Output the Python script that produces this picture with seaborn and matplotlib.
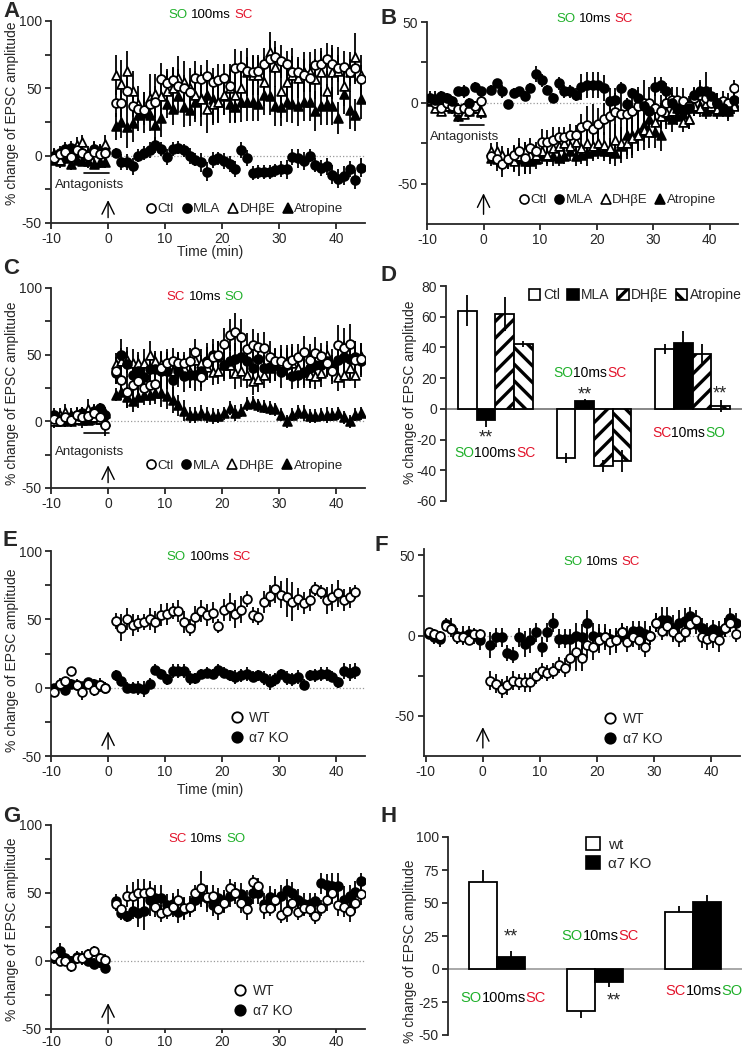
import numpy as np
import pandas as pd
import matplotlib
matplotlib.use('Agg')
import matplotlib.pyplot as plt
import matplotlib.patches as mpatches
from matplotlib.lines import Line2D
import seaborn as sns

# ---------------- data ----------------
# time (min) of each sample, baseline then post-pairing
T = [-9.5, -8.5, -7.5, -6.5, -5.5, -4.5, -3.5, -2.5, -1.5, -0.5,
     1.3, 2.3, 3.3, 4.3, 5.3, 6.3, 7.3, 8.3, 9.3, 10.3,
     11.3, 12.3, 13.3, 14.3, 15.3, 16.3, 17.3, 18.3, 19.3, 20.3,
     21.3, 22.3, 23.3, 24.3, 25.3, 26.3, 27.3, 28.3, 29.3, 30.3,
     31.3, 32.3, 33.3, 34.3, 35.3, 36.3, 37.3, 38.3, 39.3, 40.3,
     41.3, 42.3, 43.3, 44.3]

# panel A: SO 100ms SC
A_CTL = [-2, 1, 3, -1, 4, 2, 0, 3, 1, 2,
         39, 39, 48, 37, 35, 34, 38, 40, 57, 54,
         56, 52, 50, 47, 58, 57, 59, 55, 56, 58,
         52, 65, 66, 63, 62, 63, 68, 72, 73, 70,
         68, 62, 62, 60, 58, 67, 68, 72, 68, 65,
         66, 62, 65, 57]
A_CTL_ERR = [4, 3, 5, 4, 5, 4, 3, 4, 5, 6,
             10, 10, 12, 8, 8, 9, 10, 12, 12, 10,
             10, 12, 10, 9, 12, 10, 12, 10, 12, 10,
             12, 14, 12, 10, 12, 10, 12, 14, 12, 12,
             10, 12, 10, 12, 10, 12, 10, 12, 12, 10,
             12, 10, 12, 10]
A_MLA = [0, 2, 5, 6, 3, 2, 0, 5, 2, 3,
         2, -5, -5, -8, 0, 2, 4, 8, 5, -1,
         5, 6, 4, 0, -3, -5, -12, -3, -2, -4,
         -6, -10, 4, -2, -13, -12, -12, -12, -11, -10,
         -10, -1, -2, -4, 0, -7, -9, -8, -14, -17,
         -15, -10, -18, -9]
A_MLA_ERR = [5, 5, 4, 5, 6, 5, 4, 5, 6, 4,
             4, 6, 6, 6, 5, 5, 6, 6, 5, 6,
             5, 5, 5, 6, 5, 7, 7, 6, 5, 6,
             6, 6, 6, 6, 5, 5, 5, 5, 5, 6,
             7, 6, 7, 7, 5, 5, 6, 6, 7, 7,
             7, 6, 7, 7]
A_DHBE = [1, -3, 5, 2, 8, 10, 2, 5, 4, 9,
          60, 53, 63, 48, 38, 35, 43, 46, 44, 48,
          50, 58, 55, 50, 45, 42, 35, 38, 40, 45,
          50, 45, 50, 62, 60, 60, 55, 77, 66, 48,
          55, 60, 58, 62, 62, 57, 62, 48, 62, 63,
          52, 62, 73, 60]
A_DHBE_ERR = [5, 6, 5, 5, 6, 5, 5, 6, 5, 6,
              15, 18, 15, 15, 14, 12, 18, 15, 15, 15,
              15, 16, 15, 15, 18, 20, 18, 15, 15, 15,
              18, 20, 15, 18, 15, 15, 18, 15, 15, 20,
              15, 20, 15, 15, 15, 15, 18, 15, 20, 18,
              15, 15, 18, 15]
A_ATR = [-3, -4, -2, -6, -3, -4, -4, -6, -5, -5,
         22, 25, 21, 24, 30, 32, 30, 23, 28, 38,
         35, 44, 36, 34, 40, 43, 45, 42, 40, 44,
         38, 36, 40, 40, 40, 38, 45, 44, 37, 36,
         40, 38, 37, 40, 40, 33, 37, 38, 37, 28,
         46, 34, 30, 42]
A_ATR_ERR = [4, 4, 4, 5, 4, 4, 5, 4, 4, 4,
             10, 12, 15, 14, 12, 15, 12, 14, 14, 10,
             12, 12, 15, 12, 15, 14, 15, 18, 16, 14,
             14, 12, 15, 14, 14, 12, 15, 14, 15, 14,
             15, 14, 15, 14, 14, 15, 14, 15, 14, 12,
             15, 14, 12, 15]

# panel B: SO 10ms SC
B_CTL = [2, 0, -3, 0, -2, -4, -3, -5, -2, 1,
         -33, -35, -38, -35, -32, -30, -34, -28, -30, -24,
         -24, -23, -21, -21, -20, -20, -15, -14, -16, -13,
         -10, -8, -6, -7, -7, -5, -2, 0, 0, -3,
         -5, 0, 2, 2, 1, -2, 3, 5, 3, 0,
         0, 1, 0, 9]
B_CTL_ERR = [4, 3, 3, 3, 3, 4, 3, 3, 3, 3,
             5, 7, 8, 6, 6, 8, 10, 6, 6, 8,
             7, 8, 6, 6, 7, 6, 8, 12, 15, 10,
             10, 12, 15, 12, 10, 12, 12, 14, 10, 12,
             10, 8, 8, 8, 8, 6, 6, 8, 6, 6,
             6, 6, 6, 5]
B_MLA = [3, 2, 4, 3, 1, 7, 7, 0, 10, 7,
         8, 12, 7, -1, 6, 7, 4, 9, 18, 14,
         8, 3, 12, 7, 7, 5, 10, 11, 11, 11,
         9, 1, 2, 9, -1, 6, 3, -2, -5, 10,
         11, 7, 0, -3, -5, -3, 5, 7, 7, 4,
         0, -3, -5, 2]
B_MLA_ERR = [4, 3, 3, 3, 3, 3, 4, 3, 3, 3,
             3, 3, 4, 3, 3, 3, 3, 3, 5, 4,
             3, 3, 4, 4, 4, 4, 8, 8, 8, 8,
             8, 8, 4, 4, 4, 3, 5, 4, 4, 6,
             5, 5, 6, 6, 5, 5, 5, 7, 12, 6,
             6, 6, 6, 4]
B_DHBE = [1, -3, -5, -2, 0, -5, -7, -5, -3, -5,
          -30, -30, -32, -35, -36, -33, -30, -32, -32, -30,
          -32, -28, -27, -25, -27, -24, -28, -25, -27, -25,
          -26, -28, -23, -25, -25, -22, -20, -17, -18, -12,
          -8, -6, -5, -3, -12, -10, -2, -3, 0, -2,
          -4, -3, -5, -2]
B_DHBE_ERR = [3, 3, 3, 3, 3, 3, 3, 3, 3, 3,
              5, 6, 5, 6, 6, 6, 6, 6, 6, 6,
              6, 6, 6, 6, 6, 6, 8, 8, 8, 8,
              8, 8, 10, 10, 10, 10, 10, 12, 10, 10,
              8, 8, 6, 6, 6, 6, 6, 6, 6, 5,
              5, 5, 5, 5]
B_ATR = [2, 3, 0, -2, -3, -8, -5, -4, -3, -6,
         -34, -35, -36, -34, -35, -35, -36, -36, -35, -32,
         -33, -33, -34, -33, -30, -33, -32, -31, -30, -29,
         -30, -30, -31, -27, -20, -20, -18, -14, -10, -18,
         -20, -8, -10, -8, -7, -10, -3, -2, -5, -3,
         -5, -3, -4, 0]
B_ATR_ERR = [4, 4, 4, 4, 4, 4, 4, 4, 4, 4,
             5, 5, 6, 6, 8, 10, 8, 8, 6, 6,
             6, 6, 5, 5, 6, 6, 6, 8, 6, 6,
             6, 8, 8, 10, 12, 14, 12, 10, 10, 10,
             10, 8, 8, 6, 6, 6, 5, 5, 5, 5,
             5, 5, 5, 5]

# panel C: SC 10ms SO
C_CTL = [2, 0, 3, 1, 5, 3, 4, 6, 3, -3,
         38, 31, 22, 27, 30, 25, 27, 28, 40, 44,
         45, 44, 44, 45, 52, 33, 44, 48, 50, 58,
         65, 67, 63, 54, 57, 56, 55, 48, 45, 45,
         43, 46, 48, 52, 46, 51, 49, 44, 38, 57,
         55, 58, 46, 47]
C_CTL_ERR = [5, 4, 5, 4, 6, 8, 5, 6, 6, 8,
             10, 12, 12, 10, 12, 10, 12, 10, 12, 10,
             10, 8, 8, 10, 10, 10, 12, 10, 10, 12,
             12, 14, 14, 12, 12, 10, 12, 12, 10, 12,
             12, 12, 10, 12, 12, 12, 10, 10, 10, 15,
             15, 15, 14, 12]
C_MLA = [5, 2, 0, 3, 5, 6, 4, 8, 10, 5,
         36, 50, 43, 35, 38, 33, 39, 39, 38, 38,
         31, 38, 34, 35, 35, 38, 45, 50, 48, 42,
         45, 47, 48, 45, 40, 47, 40, 41, 42, 37,
         42, 34, 35, 37, 40, 42, 42, 45, 42, 46,
         48, 47, 48, 45]
C_MLA_ERR = [5, 5, 4, 5, 5, 5, 4, 5, 4, 4,
             8, 12, 10, 12, 12, 14, 12, 12, 14, 14,
             12, 12, 12, 10, 12, 12, 14, 12, 12, 12,
             12, 12, 14, 12, 12, 12, 10, 12, 12, 12,
             10, 10, 10, 12, 12, 10, 12, 12, 12, 14,
             12, 14, 12, 12]
C_DHBE = [0, 5, 7, 5, 2, 4, 9, 3, 2, 6,
          43, 45, 46, 44, 44, 44, 50, 45, 43, 40,
          38, 42, 40, 37, 46, 44, 41, 37, 38, 42,
          42, 36, 38, 35, 30, 32, 35, 40, 42, 44,
          45, 44, 40, 37, 35, 34, 36, 50, 40, 33,
          35, 40, 35, 49]
C_DHBE_ERR = [5, 5, 6, 5, 5, 6, 8, 6, 5, 5,
              8, 10, 10, 10, 8, 10, 10, 8, 10, 12,
              10, 10, 10, 12, 10, 10, 10, 10, 10, 10,
              10, 12, 12, 10, 10, 10, 10, 10, 12, 10,
              12, 12, 10, 10, 10, 10, 10, 10, 10, 10,
              10, 10, 10, 10]
C_ATR = [3, 0, 2, 0, 3, 1, 1, 3, 2, 0,
         20, 22, 18, 15, 18, 20, 20, 21, 21, 19,
         16, 12, 8, 5, 5, 6, 5, 4, 4, 6,
         10, 6, 8, 13, 14, 12, 11, 10, 9, 5,
         0, 5, 7, 6, 4, 4, 5, 5, 5, 6,
         3, 0, 5, 6]
C_ATR_ERR = [4, 4, 4, 4, 4, 4, 4, 4, 4, 4,
             5, 6, 8, 8, 8, 8, 8, 8, 10, 10,
             10, 8, 8, 6, 6, 6, 6, 6, 5, 5,
             5, 6, 5, 5, 5, 5, 5, 5, 5, 5,
             5, 5, 5, 6, 5, 5, 5, 6, 5, 5,
             5, 5, 5, 5]

# panel E: SO 100ms SC, WT vs a7 KO
E_WT = [-3, 3, 5, 12, 2, -3, 3, -2, 2, 0,
        49, 44, 50, 46, 47, 48, 50, 48, 53, 54,
        56, 56, 48, 44, 52, 56, 53, 55, 45, 57,
        59, 54, 57, 65, 53, 52, 63, 67, 72, 68,
        66, 63, 65, 62, 64, 72, 70, 64, 66, 69,
        64, 66, 70, np.nan]
E_WT_ERR = [4, 4, 3, 3, 4, 6, 4, 4, 5, 4,
            6, 10, 8, 8, 6, 6, 8, 8, 8, 8,
            6, 8, 8, 6, 8, 8, 8, 8, 5, 8,
            10, 10, 10, 6, 6, 6, 8, 8, 10, 10,
            14, 14, 8, 8, 8, 5, 5, 10, 10, 10,
            8, 8, 5, np.nan]
E_KO = [0, 2, -2, 3, 2, 1, 4, 3, 2, 0,
        9, 5, 0, 0, 0, -1, 3, 13, 10, 6,
        12, 12, 12, 7, 7, 10, 11, 10, 13, 11,
        9, 8, 9, 10, 8, 9, 7, 4, 6, 10,
        7, 6, 8, 2, 9, 9, 10, 10, 8, 4,
        12, 11, 12, np.nan]
E_KO_ERR = [3, 3, 3, 3, 3, 3, 3, 3, 3, 4,
            4, 4, 4, 4, 5, 6, 4, 4, 4, 4,
            5, 5, 5, 5, 4, 4, 4, 4, 4, 4,
            4, 5, 5, 5, 4, 4, 5, 6, 5, 4,
            5, 5, 5, 4, 4, 5, 5, 5, 4, 4,
            6, 6, 6, np.nan]

# panel F: SO 10ms SC, WT vs a7 KO
F_WT = [2, 1, 0, 6, 4, -1, -1, -3, 1, 1,
        -28, -30, -33, -31, -28, -29, -29, -29, -25, -22,
        -23, -22, -18, -20, -14, -10, -14, -6, -7, -3,
        -1, -4, -3, 2, -4, -1, -3, -7, 0, 8,
        3, 6, 2, -1, 2, 7, 10, -1, -2, -1,
        -3, 5, 8, 1]
F_WT_ERR = [3, 3, 3, 3, 3, 4, 4, 3, 3, 3,
            6, 6, 6, 6, 6, 5, 6, 6, 5, 5,
            5, 5, 5, 6, 6, 12, 8, 8, 8, 8,
            8, 8, 8, 6, 6, 6, 6, 6, 6, 6,
            6, 6, 6, 6, 6, 6, 6, 7, 7, 7,
            7, 6, 6, 5]
F_KO = [1, -1, -2, 7, 5, 0, 0, 1, 0, -3,
        -6, -1, -1, -11, -12, -1, -5, -3, 2, -7,
        2, 8, -2, -2, -2, 0, -1, 8, 0, -1,
        -1, -2, -3, 2, 0, 3, 3, 1, 0, 8,
        10, 10, 5, 8, 9, 12, 7, 5, 2, 4,
        3, 5, 11, 8]
F_KO_ERR = [3, 4, 5, 4, 6, 5, 6, 5, 5, 6,
            8, 6, 6, 5, 5, 6, 8, 8, 6, 6,
            6, 6, 6, 6, 6, 8, 8, 8, 8, 8,
            6, 6, 6, 6, 6, 6, 6, 8, 6, 6,
            8, 8, 8, 8, 8, 6, 6, 6, 6, 6,
            6, 6, 6, 6]

# panel G: SC 10ms SO, WT vs a7 KO
G_WT = [4, 0, 0, -4, 2, 2, 5, 7, 2, 1,
        42, 38, 48, 48, 50, 50, 51, 40, 35, 37,
        40, 45, 39, 40, 50, 54, 47, 48, 38, 43,
        54, 50, 43, 38, 58, 55, 39, 39, 45, 34,
        37, 43, 36, 39, 38, 33, 39, 45, 50, 41,
        40, 37, 43, 49]
G_WT_ERR = [4, 4, 4, 4, 4, 5, 4, 4, 4, 4,
            5, 5, 8, 10, 10, 10, 8, 8, 6, 6,
            8, 8, 8, 6, 6, 12, 8, 8, 8, 8,
            6, 6, 8, 8, 5, 6, 8, 6, 6, 6,
            8, 6, 6, 6, 6, 6, 6, 8, 8, 8,
            8, 8, 8, 8]
G_KO = [2, 7, 2, 0, 3, 2, 0, -2, -1, -5,
        44, 35, 33, 37, 35, 37, 45, 46, 46, 41,
        42, 36, 38, 40, 45, 48, 46, 41, 46, 44,
        48, 50, 49, 44, 50, 50, 42, 47, 45, 48,
        52, 50, 45, 42, 42, 44, 57, 56, 55, 55,
        45, 48, 51, 59]
G_KO_ERR = [4, 6, 4, 4, 4, 4, 4, 4, 4, 4,
            5, 5, 4, 6, 10, 14, 12, 10, 10, 8,
            8, 8, 8, 8, 8, 8, 10, 8, 8, 8,
            8, 8, 8, 8, 8, 8, 8, 8, 8, 8,
            8, 8, 8, 8, 8, 6, 8, 8, 10, 10,
            10, 8, 8, 6]

# panel D: summary bars
D_GROUPS = ['SO100msSC', 'SO10msSC', 'SC10msSO']
D_CONDS = ['Ctl', 'MLA', 'DHβE', 'Atropine']
D_CTL = [64, -32, 39]
D_CTL_ERR = [10, 3, 3]
D_MLA = [-7, 5, 43]
D_MLA_ERR = [5, 1.5, 8]
D_DHBE = [62, -37, 36]
D_DHBE_ERR = [11, 4, 6]
D_ATR = [42, -34, 2]
D_ATR_ERR = [2, 7, 4]

# panel H: summary bars WT vs KO
H_CONDS = ['wt', 'α7 KO']
H_WT = [66, -32, 43]
H_WT_ERR = [9, 5, 5]
H_KO = [9, -10, 51]
H_KO_ERR = [5, 4, 5]

GREEN = '#1fb02a'
RED = '#e3132b'

# ---------------- style ----------------
sns.set_style('ticks')
plt.rcParams['font.family'] = ['Liberation Sans', 'DejaVu Sans']
plt.rcParams['font.size'] = 10
plt.rcParams['axes.linewidth'] = 1.3
plt.rcParams['hatch.linewidth'] = 2.4
plt.rcParams['axes.unicode_minus'] = False

fig = plt.figure(figsize=(7.42, 10.49), dpi=100)


def add_ax(l, t, r, b):
    return fig.add_axes([l / 742, 1 - b / 1049, (r - l) / 742, (b - t) / 1049])


def colored_text(ax, x, y, parts, transform, size=9.5, gap=0.0):
    txt = ax.text(x, y, parts[0][0], color=parts[0][1], transform=transform,
                  fontsize=size, ha='left', va='bottom')
    for s, c in parts[1:]:
        txt = ax.annotate(s, xy=(1, 0), xycoords=txt, xytext=(gap, 0),
                          textcoords='offset points', color=c, fontsize=size,
                          ha='left', va='bottom')


def draw_tc(ax, series):
    for vals, errs, marker, face in series:
        ax.errorbar(T, vals, yerr=errs, fmt='none', ecolor='black',
                    elinewidth=1.3, capsize=0, zorder=2)
        sns.scatterplot(x=T, y=vals, marker=marker, s=40, color=face,
                        edgecolor='black', linewidth=1.3, zorder=3, ax=ax, legend=False)


def style_tc(ax, ylim, major, minor):
    ax.set_xlim(-10, 45)
    ax.set_ylim(*ylim)
    ax.set_xticks([-10, 0, 10, 20, 30, 40])
    ax.set_yticks(major)
    ax.set_yticks(minor, minor=True)
    ax.tick_params(which='both', length=4.5, width=1.3, labelsize=10, pad=2)
    ax.axhline(0, color='0.6', ls=':', lw=0.9, zorder=0)
    sns.despine(ax=ax)


def arrow(ax, y0, y1):
    ax.annotate('', xy=(0, y1), xytext=(0, y0),
                arrowprops=dict(arrowstyle='->,head_length=0.45,head_width=0.22',
                                lw=1.0, color='black', mutation_scale=20, shrinkA=0, shrinkB=0))


def antagonists(ax, yline, ytext):
    ax.plot([-4.2, 0.1], [yline, yline], color='black', lw=1.2)
    ax.text(-3.3, ytext, 'Antagonists', ha='center', va='center', fontsize=9.5)


def drug_legend(ax, x, y):
    h = [Line2D([], [], marker='o', ls='none', mfc='white', mec='black', ms=6.5, mew=1.2),
         Line2D([], [], marker='o', ls='none', mfc='black', mec='black', ms=6.5, mew=1.2),
         Line2D([], [], marker='^', ls='none', mfc='white', mec='black', ms=6.5, mew=1.2),
         Line2D([], [], marker='^', ls='none', mfc='black', mec='black', ms=6.5, mew=1.2)]
    ax.legend(h, ['Ctl', 'MLA', 'DHβE', 'Atropine'], ncol=4, frameon=False, loc='center',
              bbox_to_anchor=(x, y), handletextpad=0.0, columnspacing=0.45,
              handlelength=1.0, fontsize=9.5, borderpad=0, borderaxespad=0)


def geno_legend(ax, x, y):
    h = [Line2D([], [], marker='o', ls='none', mfc='white', mec='black', ms=7.5, mew=1.3),
         Line2D([], [], marker='o', ls='none', mfc='black', mec='black', ms=7.5, mew=1.3)]
    ax.legend(h, ['WT', 'α7 KO'], frameon=False, loc='center left', bbox_to_anchor=(x, y),
              handletextpad=0.4, labelspacing=0.45, handlelength=1.0, fontsize=10,
              borderpad=0, borderaxespad=0)


YLAB = '% change of EPSC amplitude'

# ---------------- A ----------------
axA = add_ax(51, 21, 365, 223)
draw_tc(axA, [(A_ATR, A_ATR_ERR, '^', 'black'), (A_DHBE, A_DHBE_ERR, '^', 'white'),
              (A_MLA, A_MLA_ERR, 'o', 'black'), (A_CTL, A_CTL_ERR, 'o', 'white')])
style_tc(axA, (-50, 100), [-50, 0, 50, 100], [-25, 25, 75])
arrow(axA, -46, -33)
antagonists(axA, -13, -22)
drug_legend(axA, 0.615, 0.068)
colored_text(axA, 0.373, 1.0, [('SO', GREEN), ('100ms', 'black'), ('SC', RED)], axA.transAxes, gap=2.5)
axA.set_ylabel(YLAB, fontsize=10)
axA.yaxis.set_label_coords(-0.102, 0.545)
axA.set_xlabel('Time (min)', fontsize=10, va='top')
axA.xaxis.set_label_coords(0.506, -0.108)

# ---------------- B ----------------
axB = add_ax(427, 22, 738, 224)
draw_tc(axB, [(B_ATR, B_ATR_ERR, '^', 'black'), (B_DHBE, B_DHBE_ERR, '^', 'white'),
              (B_CTL, B_CTL_ERR, 'o', 'white'), (B_MLA, B_MLA_ERR, 'o', 'black')])
style_tc(axB, (-75, 50), [-50, 0, 50], [-25, 25])
arrow(axB, -69, -56)
antagonists(axB, -14, -21)
drug_legend(axB, 0.61, 0.118)
colored_text(axB, 0.415, 0.985, [('SO', GREEN), ('10ms', 'black'), ('SC', RED)], axB.transAxes, gap=2.5)

# ---------------- C ----------------
axC = add_ax(51, 288, 365, 488)
draw_tc(axC, [(C_ATR, C_ATR_ERR, '^', 'black'), (C_DHBE, C_DHBE_ERR, '^', 'white'),
              (C_MLA, C_MLA_ERR, 'o', 'black'), (C_CTL, C_CTL_ERR, 'o', 'white')])
style_tc(axC, (-50, 100), [-50, 0, 50, 100], [-25, 25, 75])
arrow(axC, -46, -33)
antagonists(axC, -9, -23)
drug_legend(axC, 0.613, 0.11)
colored_text(axC, 0.369, 0.925, [('SC', RED), ('10ms', 'black'), ('SO', GREEN)], axC.transAxes, gap=2.5)
axC.set_ylabel(YLAB, fontsize=10)
axC.yaxis.set_label_coords(-0.102, 0.475)

# ---------------- D ----------------
axD = add_ax(446, 286, 742, 501)
dfD = pd.DataFrame({
    'group': np.repeat(D_GROUPS, 4),
    'cond': D_CONDS * 3,
    'value': [v for g in range(3) for v in (D_CTL[g], D_MLA[g], D_DHBE[g], D_ATR[g])],
    'err': [v for g in range(3) for v in (D_CTL_ERR[g], D_MLA_ERR[g], D_DHBE_ERR[g], D_ATR_ERR[g])],
})
axD.axhline(0, color='0.45', lw=1.2, zorder=0.5)
sns.barplot(data=dfD, x='group', y='value', hue='cond', order=D_GROUPS, hue_order=D_CONDS,
            palette={'Ctl': 'white', 'MLA': 'black', 'DHβE': 'white', 'Atropine': 'white'},
            edgecolor='black', linewidth=1.3, width=0.76, errorbar=None, saturation=1,
            legend=False, ax=axD)
barsD = sorted([p for p in axD.patches if isinstance(p, mpatches.Rectangle)], key=lambda p: p.get_x())
hatchD = {'DHβE': '//', 'Atropine': '\\\\'}
for p, (_, row) in zip(barsD, dfD.iterrows()):
    if row['cond'] in hatchD:
        p.set_hatch(hatchD[row['cond']])
    cx = p.get_x() + p.get_width() / 2
    axD.errorbar(cx, row['value'], yerr=row['err'], fmt='none', ecolor='black',
                 elinewidth=1.3, capsize=0, zorder=3)
axD.set_xlim(-0.5, 2.5)
axD.set_ylim(-60, 80)
axD.set_yticks([-60, -40, -20, 0, 20, 40, 60, 80])
axD.set_xticks([])
axD.set_xlabel('')
axD.tick_params(axis='y', length=4.5, width=1.3, labelsize=10, pad=2)
sns.despine(ax=axD, bottom=True)
axD.set_ylabel(YLAB, fontsize=10)
axD.yaxis.set_label_coords(-0.098, 0.507)
hD = [mpatches.Patch(facecolor='white', edgecolor='black', lw=1.2),
      mpatches.Patch(facecolor='black', edgecolor='black', lw=1.2),
      mpatches.Patch(facecolor='white', edgecolor='black', lw=1.2, hatch='//'),
      mpatches.Patch(facecolor='white', edgecolor='black', lw=1.2, hatch='\\\\')]
axD.legend(hD, D_CONDS, ncol=4, frameon=False, loc='center left', bbox_to_anchor=(0.28, 0.957),
           handlelength=0.8, handleheight=0.8, handletextpad=0.2, columnspacing=0.55,
           fontsize=10, borderpad=0, borderaxespad=0)
colored_text(axD, -0.414, -33.5, [('SO', GREEN), ('100ms', 'black'), ('SC', RED)], axD.transData, size=10)
colored_text(axD, 0.587, 18.6, [('SO', GREEN), ('10ms', 'black'), ('SC', RED)], axD.transData, size=10)
colored_text(axD, 1.588, -20.5, [('SC', RED), ('10ms', 'black'), ('SO', GREEN)], axD.transData, size=10)
for sx, sy in [(-0.092, -19), (0.909, 9), (2.28, 10)]:
    axD.text(sx, sy, '**', ha='center', va='center', fontsize=13)

# ---------------- E ----------------
axE = add_ax(51, 551, 365, 756)
draw_tc(axE, [(E_KO, E_KO_ERR, 'o', 'black'), (E_WT, E_WT_ERR, 'o', 'white')])
style_tc(axE, (-50, 100), [-50, 0, 50, 100], [-25, 25, 75])
arrow(axE, -45, -32)
geno_legend(axE, 0.57, 0.137)
colored_text(axE, 0.369, 0.94, [('SO', GREEN), ('100ms', 'black'), ('SC', RED)], axE.transAxes, gap=2.5)
axE.set_ylabel(YLAB, fontsize=10)
axE.yaxis.set_label_coords(-0.102, 0.468)
axE.set_xlabel('Time (min)', fontsize=10, va='top')
axE.xaxis.set_label_coords(0.506, -0.132)

# ---------------- F ----------------
axF = add_ax(424, 549, 740, 756)
draw_tc(axF, [(F_KO, F_KO_ERR, 'o', 'black'), (F_WT, F_WT_ERR, 'o', 'white')])
style_tc(axF, (-75, 54), [-50, 0, 50], [-25, 25])
axF.set_xlim(-10.3, 45)
arrow(axF, -70, -57)
geno_legend(axF, 0.568, 0.131)
colored_text(axF, 0.44, 0.908, [('SO', GREEN), ('10ms', 'black'), ('SC', RED)], axF.transAxes, gap=2.5)

# ---------------- G ----------------
axG = add_ax(51, 825, 365, 1029)
draw_tc(axG, [(G_KO, G_KO_ERR, 'o', 'black'), (G_WT, G_WT_ERR, 'o', 'white')])
style_tc(axG, (-50, 100), [-50, 0, 50, 100], [-25, 25, 75])
axG.tick_params(axis='x', length=3, pad=1)
arrow(axG, -46, -31)
geno_legend(axG, 0.58, 0.137)
colored_text(axG, 0.373, 0.902, [('SC', RED), ('10ms', 'black'), ('SO', GREEN)], axG.transAxes, gap=2.5)
axG.set_ylabel(YLAB, fontsize=10)
axG.yaxis.set_label_coords(-0.102, 0.49)

# ---------------- H ----------------
axH = add_ax(448, 837, 742, 1035)
dfH = pd.DataFrame({
    'group': np.repeat(D_GROUPS, 2),
    'cond': H_CONDS * 3,
    'value': [v for g in range(3) for v in (H_WT[g], H_KO[g])],
    'err': [v for g in range(3) for v in (H_WT_ERR[g], H_KO_ERR[g])],
})
axH.axhline(0, color='0.6', lw=1.2, zorder=0.5)
sns.barplot(data=dfH, x='group', y='value', hue='cond', order=D_GROUPS, hue_order=H_CONDS,
            palette={'wt': 'white', 'α7 KO': 'black'}, edgecolor='black', linewidth=1.3,
            width=0.58, errorbar=None, saturation=1, legend=False, ax=axH)
barsH = sorted([p for p in axH.patches if isinstance(p, mpatches.Rectangle)], key=lambda p: p.get_x())
for p, (_, row) in zip(barsH, dfH.iterrows()):
    cx = p.get_x() + p.get_width() / 2
    lo = row['err'] if row['value'] < 0 else 0
    hi = row['err'] if row['value'] >= 0 else 0
    axH.errorbar(cx, row['value'], yerr=[[lo], [hi]], fmt='none', ecolor='black',
                 elinewidth=1.3, capsize=0, zorder=3)
axH.set_xlim(-0.5, 2.5)
axH.set_ylim(-50, 100)
axH.set_yticks([-50, -25, 0, 25, 50, 75, 100])
axH.set_xticks([])
axH.set_xlabel('')
axH.tick_params(axis='y', length=4.5, width=1.3, labelsize=10, pad=2)
sns.despine(ax=axH, bottom=True)
axH.set_ylabel(YLAB, fontsize=10)
axH.yaxis.set_label_coords(-0.105, 0.424)
hH = [mpatches.Patch(facecolor='white', edgecolor='black', lw=1.2),
      mpatches.Patch(facecolor='black', edgecolor='black', lw=1.2)]
axH.legend(hH, H_CONDS, frameon=False, loc='upper left', bbox_to_anchor=(0.47, 1.0),
           handlelength=0.9, handleheight=0.9, handletextpad=0.5, labelspacing=0.3,
           fontsize=11, borderpad=0, borderaxespad=0)
colored_text(axH, -0.374, -27, [('SO', GREEN), ('100ms', 'black'), ('SC', RED)], axH.transData, size=10.5)
colored_text(axH, 0.66, 20, [('SO', GREEN), ('10ms', 'black'), ('SC', RED)], axH.transData, size=10.5)
colored_text(axH, 1.718, -22, [('SC', RED), ('10ms', 'black'), ('SO', GREEN)], axH.transData, size=10.5)
for sx, sy in [(0.138, 24), (1.196, -24)]:
    axH.text(sx, sy, '**', ha='center', va='center', fontsize=13)

# panel letters
for lab, px, py in [('A', 3, 1), ('B', 381, 8), ('C', 3, 258), ('D', 381, 265),
                    ('E', 3, 530), ('F', 374, 535), ('G', 3, 806), ('H', 381, 806)]:
    fig.text(px / 742, 1 - py / 1049, lab, fontsize=16, fontweight='bold', ha='left', va='top')

fig.savefig('out.png', dpi=100, facecolor='white')
